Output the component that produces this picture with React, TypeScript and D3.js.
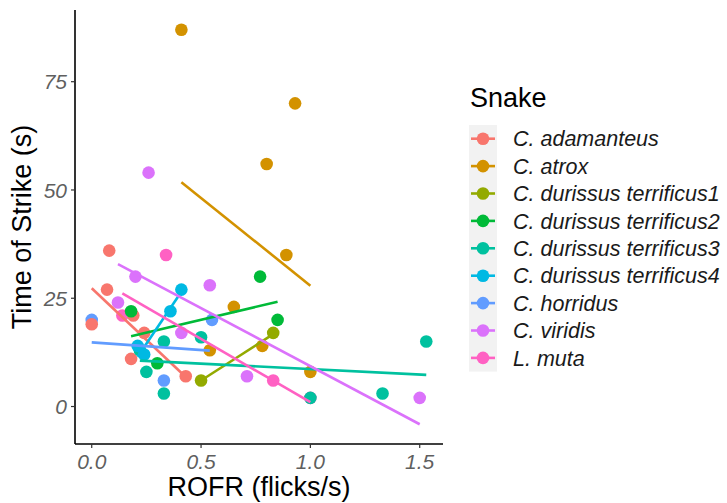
import React from "react";
import * as d3 from "d3";

const species = [
  "C. adamanteus",
  "C. atrox",
  "C. durissus terrificus1",
  "C. durissus terrificus2",
  "C. durissus terrificus3",
  "C. durissus terrificus4",
  "C. horridus",
  "C. viridis",
  "L. muta",
];

const colors = ["#F8766D", "#D39200", "#93AA00", "#00BA38", "#00C19F", "#00B9E3", "#619CFF", "#DB72FB", "#FF61C3"];

// observed points: [ROFR, time]
const adamanteus = [[0, 19], [0.07, 27], [0.08, 36], [0.19, 21], [0.18, 11], [0.24, 17], [0.43, 7]];
const atrox = [[0.41, 87], [0.93, 70], [0.8, 56], [0.89, 35], [0.65, 23], [0.54, 13], [0.78, 14], [1.0, 8]];
const dt1 = [[0.5, 6], [0.83, 17]];
const dt2 = [[0.18, 22], [0.3, 10], [0.77, 30], [0.85, 20]];
const dt3 = [[0.22, 13], [0.25, 8], [0.33, 15], [0.33, 3], [0.5, 16], [1.0, 2], [1.33, 3], [1.53, 15]];
const dt4 = [[0.41, 27], [0.36, 22], [0.21, 14], [0.24, 12]];
const horridus = [[0, 20], [0.33, 6], [0.55, 20]];
const viridis = [[0.12, 24], [0.2, 30], [0.26, 54], [0.41, 17], [0.54, 28], [0.71, 7], [1.5, 2]];
const muta = [[0.14, 21], [0.34, 35], [0.83, 6], [1.0, 2]];

const points = [adamanteus, atrox, dt1, dt2, dt3, dt4, horridus, viridis, muta];
// order in which the point layers are stacked (first = bottom)
const drawOrder = [8, 6, 0, 1, 2, 3, 4, 5, 7];

// fitted lines: [x0, y0, x1, y1]
const fits = [
  [0, 27.3, 0.43, 6.8],
  [0.41, 51.8, 1.0, 27.9],
  [0.5, 6, 0.83, 16.7],
  [0.18, 16.2, 0.85, 24.2],
  [0.22, 10.6, 1.53, 7.3],
  [0.21, 11.5, 0.41, 26.5],
  [0, 14.8, 0.54, 12.9],
  [0.12, 32.9, 1.5, -4.1],
  [0.14, 26.1, 1.0, 1.0],
];

const xTicks = [0, 0.5, 1.0, 1.5];
const yTicks = [0, 25, 50, 75];

const W = 727, H = 503;
const P = { left: 75, right: 443, top: 10, bottom: 444 };
const FONT = "'Liberation Sans', Arial, sans-serif";

export default function App() {
  const allX = points.flat().map((d) => d[0]).concat(fits.flatMap((f) => [f[0], f[2]]));
  const allY = points.flat().map((d) => d[1]).concat(fits.flatMap((f) => [f[1], f[3]]));
  const [x0, x1] = d3.extent(allX) as [number, number];
  const [y0, y1] = d3.extent(allY) as [number, number];
  const ex = (x1 - x0) * 0.05, ey = (y1 - y0) * 0.05;
  const x = d3.scaleLinear().domain([x0 - ex, x1 + ex]).range([P.left, P.right]);
  const y = d3.scaleLinear().domain([y0 - ey, y1 + ey]).range([P.bottom, P.top]);
  const line = d3.line<number[]>().x((d) => x(d[0])).y((d) => y(d[1]));

  const legX = 469, legTop = 125, rowH = 27.4;

  return (
    <svg width={W} height={H} style={{ position: "absolute", left: 0, top: 0, background: "#fff" }} fontFamily={FONT}>
      <rect width={W} height={H} fill="#fff" />
      {/* points */}
      {drawOrder.map((i) =>
        points[i].map((d, j) => <circle key={`p${i}-${j}`} cx={x(d[0])} cy={y(d[1])} r={6.3} fill={colors[i]} />)
      )}
      {/* fitted lines */}
      {fits.map((f, i) => (
        <path key={`l${i}`} d={line([[f[0], f[1]], [f[2], f[3]]]) || ""} stroke={colors[i]} strokeWidth={2.6} fill="none" />
      ))}
      {/* axes */}
      <line x1={P.left} x2={P.left} y1={P.top} y2={P.bottom} stroke="#000" strokeWidth={1.6} />
      <line x1={P.left} x2={P.right} y1={P.bottom} y2={P.bottom} stroke="#000" strokeWidth={1.6} />
      {yTicks.map((t) => (
        <g key={`yt${t}`}>
          <line x1={P.left - 4} x2={P.left} y1={y(t)} y2={y(t)} stroke="#333" strokeWidth={1.2} />
          <text x={P.left - 8} y={y(t)} dy="0.36em" textAnchor="end" fontSize={21} fontStyle="italic" fill="#5f5f5f">
            {t}
          </text>
        </g>
      ))}
      {xTicks.map((t) => (
        <g key={`xt${t}`}>
          <line x1={x(t)} x2={x(t)} y1={P.bottom} y2={P.bottom + 4} stroke="#333" strokeWidth={1.2} />
          <text x={x(t)} y={469} textAnchor="middle" fontSize={21} fontStyle="italic" fill="#5f5f5f">
            {d3.format(".1f")(t)}
          </text>
        </g>
      ))}
      <text x={(P.left + P.right) / 2} y={496} textAnchor="middle" fontSize={27} fill="#000">
        ROFR (flicks/s)
      </text>
      <text transform={`translate(31,${(P.top + P.bottom) / 2}) rotate(-90)`} textAnchor="middle" fontSize={27} fill="#000">
        Time of Strike (s)
      </text>
      {/* legend */}
      <text x={470} y={107} fontSize={27} fill="#000">Snake</text>
      <rect x={legX} y={legTop} width={28} height={rowH * species.length} fill="#F2F2F2" />
      {species.map((s, i) => {
        const cy = legTop + rowH * (i + 0.5);
        return (
          <g key={`lg${i}`}>
            <line x1={legX + 2} x2={legX + 26} y1={cy} y2={cy} stroke={colors[i]} strokeWidth={2.6} />
            <circle cx={legX + 14} cy={cy} r={6.3} fill={colors[i]} />
            <text x={513} y={cy} dy="0.36em" fontSize={21.5} fontStyle="italic" fill="#1a1a1a">
              {s}
            </text>
          </g>
        );
      })}
    </svg>
  );
}
